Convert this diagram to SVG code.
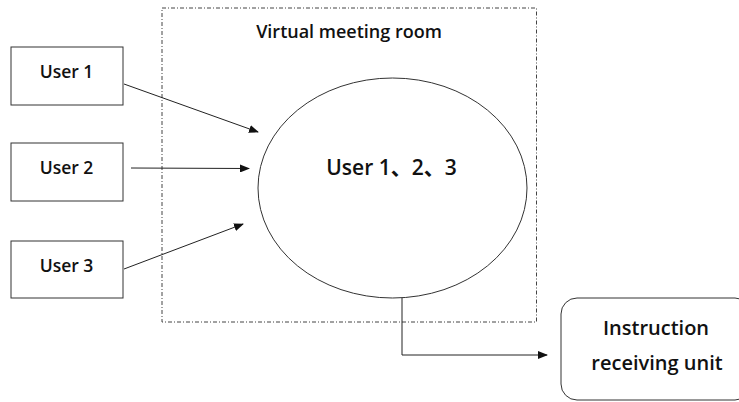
<svg xmlns="http://www.w3.org/2000/svg" width="739" height="402" viewBox="0 0 739 402">
<style>
.box{fill:#fff;stroke:#333;stroke-width:1}
.t{font-family:"Open Sans","Liberation Sans",sans-serif;font-weight:600;fill:#111;text-anchor:middle}
.c{fill:none;stroke:#222;stroke-width:1}
</style>
<defs>
<marker id="a" markerWidth="10" markerHeight="8" refX="9" refY="4" orient="auto" markerUnits="userSpaceOnUse">
<path d="M0,0 L10,4 L0,8 z" fill="#111"/>
</marker>
</defs>
<rect width="739" height="402" fill="#fff"/>
<g id="room">
<rect x="162" y="8" width="374.5" height="314" fill="none" stroke="#444" stroke-width="1" stroke-dasharray="4,2,1,2"/>
<text class="t" x="349" y="38" font-size="18">Virtual meeting room</text>
</g>
<g id="user1">
<rect class="box" x="11" y="47" width="112" height="58"/>
<text class="t" x="66.5" y="78" font-size="17.5">User 1</text>
</g>
<g id="user2">
<rect class="box" x="11" y="143" width="112" height="58"/>
<text class="t" x="66.5" y="174" font-size="17.5">User 2</text>
</g>
<g id="user3">
<rect class="box" x="11" y="241" width="112" height="57"/>
<text class="t" x="66.5" y="272" font-size="17.5">User 3</text>
</g>
<g id="meeting">
<ellipse cx="392.5" cy="188" rx="134.5" ry="110" fill="none" stroke="#333" stroke-width="1"/>
<text class="t" x="391.5" y="175" font-size="21">User 1<tspan font-family="'Noto Sans CJK SC',sans-serif">、</tspan>2<tspan font-family="'Noto Sans CJK SC',sans-serif">、</tspan>3</text>
</g>
<g id="unit">
<rect class="box" x="561" y="298" width="190" height="102" rx="16"/>
<text class="t" x="656" y="335" font-size="20">Instruction</text>
<text class="t" x="657" y="370" font-size="20">receiving unit</text>
</g>
<g id="connectors">
<line class="c" x1="124" y1="84" x2="258" y2="132" marker-end="url(#a)"/>
<line class="c" x1="131" y1="168" x2="249" y2="168.5" marker-end="url(#a)"/>
<line class="c" x1="124" y1="269" x2="243" y2="224" marker-end="url(#a)"/>
<path class="c" d="M402,298 V355 H547" marker-end="url(#a)"/>
</g>
</svg>
